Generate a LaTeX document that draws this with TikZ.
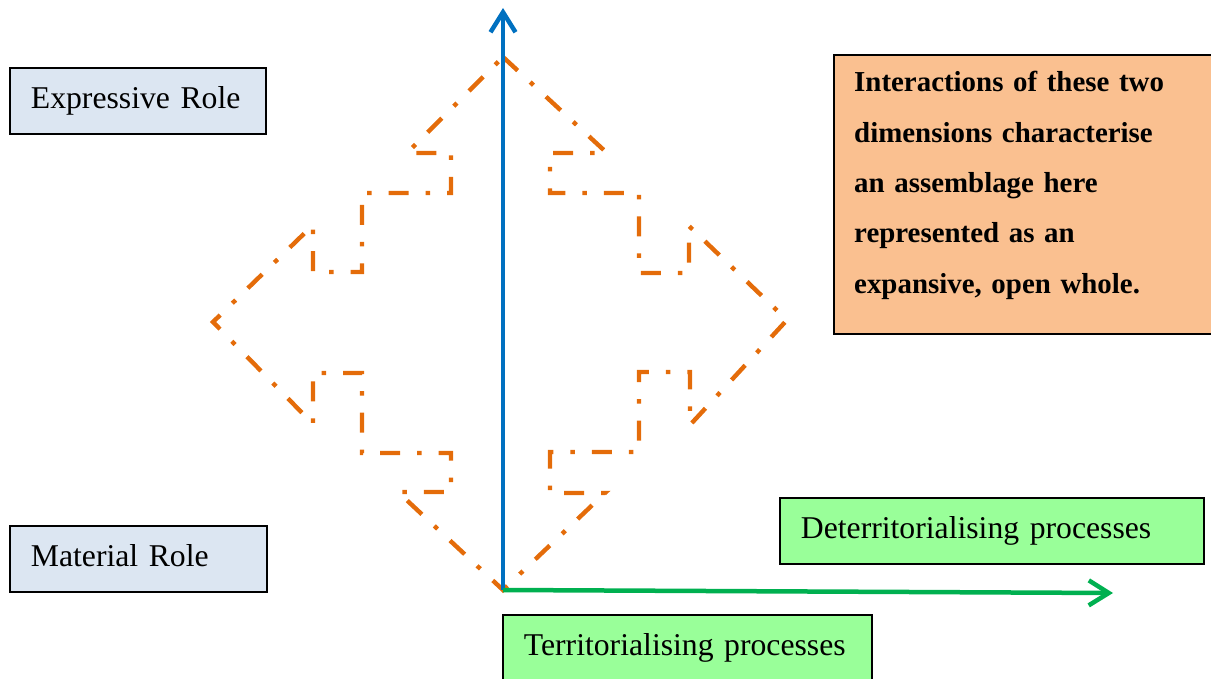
\documentclass[tikz,border=0pt]{standalone}
\usepackage{fontspec}
\setmainfont{Liberation Serif}
\usetikzlibrary{arrows.meta}
\definecolor{lblue}{RGB}{220,230,242}
\definecolor{lgreen}{RGB}{153,255,153}
\definecolor{lorange}{RGB}{250,192,144}
\definecolor{dorange}{RGB}{228,108,10}
\definecolor{axblue}{RGB}{0,112,192}
\definecolor{axgreen}{RGB}{0,176,80}
\begin{document}
\begin{tikzpicture}[x=1pt,y=-1pt,
  labelbox/.style={draw=black, line width=1.8pt, anchor=north west,
    minimum height=66pt, text height=22pt, text depth=7pt,
    inner xsep=21pt, inner ysep=0pt, align=left,
    font=\fontsize{31.7}{38}\selectfont},
  rolebox/.style={labelbox, fill=lblue},
  procbox/.style={labelbox, fill=lgreen},
  outline/.style={draw=dorange, line width=4.4pt, line join=miter,
    dash pattern=on 20pt off 17pt on 4.5pt off 17pt},
  axis/.style={line width=4.5pt, -{Straight Barb[length=20pt,width=25pt]}},
]
\useasboundingbox (0,0) rectangle (1211,679);

% outline shape
\draw[outline] (503,57) -- (607,153) -- (550,153) -- (550,193) -- (639,193)
  -- (639,273) -- (689,273) -- (689,226) -- (787,320) -- (690,425)
  -- (690,372) -- (639,372) -- (639,452) -- (550,452) -- (550,493)
  -- (605,493) -- (503,590) -- (398,492) -- (451,492) -- (451,453)
  -- (362,453) -- (362,373) -- (313,373) -- (313,424) -- (213,322)
  -- (313,225) -- (313,272) -- (362,272) -- (362,193) -- (451,193)
  -- (451,153) -- (407,153) -- cycle;

% axes
\coordinate (O) at (503,590);
\coordinate (ytip) at (503,8);
\coordinate (xtip) at (1113,593);
\draw[axis, draw=axblue] (O) -- (ytip);
\draw[axis, draw=axgreen] (O) -- (xtip);

% boxes
\node[rolebox, text width=214pt] (expr) at (9,67) {\mbox{Expressive Role}};
\node[rolebox, text width=215pt] (mat) at (9,525) {\mbox{Material Role}};
\node[procbox, text width=382pt] (deterr) at (779,497) {\mbox{Deterritorialising processes}};
\node[procbox, text width=327pt] (terr) at (502,614) {\mbox{Territorialising processes}};

\node[draw=black, line width=1.8pt, fill=lorange, anchor=north west,
  minimum width=420pt, minimum height=279pt, inner sep=0pt] (obox) at (833,54) {};
\node[anchor=base west, inner sep=0pt, text width=350pt, align=left,
  font=\bfseries\fontsize{28.9}{50.3}\selectfont] (otext) at (854,92)
  {Interactions of these two\\ dimensions characterise\\ an assemblage here\\ represented as an\\ expansive, open whole.};
\end{tikzpicture}
\end{document}
